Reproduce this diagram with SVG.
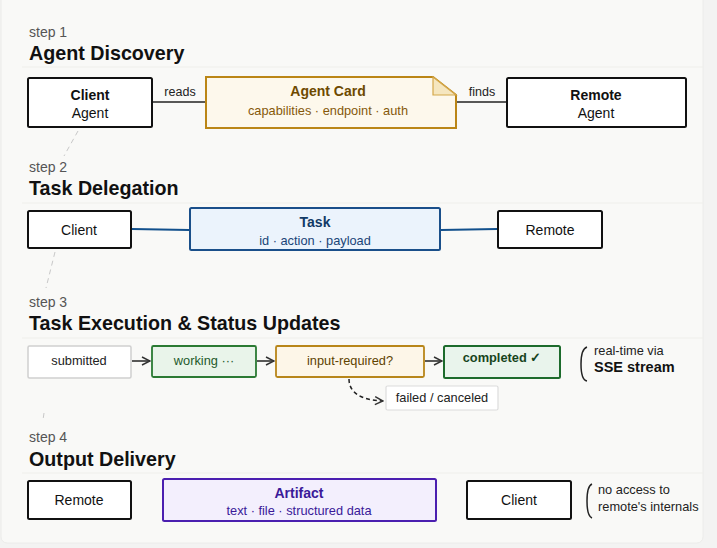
<svg xmlns="http://www.w3.org/2000/svg" width="717" height="548" viewBox="0 0 717 548">
<style>
text{font-family:"Liberation Sans",Arial,sans-serif}
.step{font-size:14px;fill:#555}
.title{font-size:19.7px;font-weight:bold;fill:#111}
.sep{stroke:#efefec;stroke-width:1.2}
.bk{fill:#fff;stroke:#111;stroke-width:2}
.t14{font-size:14px;fill:#111;text-anchor:middle}
.b14{font-size:14px;font-weight:bold;text-anchor:middle}
.t12{font-size:12.8px;text-anchor:middle}
.lbl{font-size:12.5px;fill:#222;text-anchor:middle}
.con{stroke:#222;stroke-width:1.5;fill:none}
.blue{stroke:#12508c;stroke-width:2.2;fill:none}
.guide{stroke:#c8c8c8;stroke-width:1;stroke-dasharray:5 4;fill:none}
.note{font-size:12.8px;fill:#222}
</style>
<defs>
<marker id="arr" viewBox="0 0 10 10" refX="9" refY="5" markerWidth="10" markerHeight="10" markerUnits="userSpaceOnUse" orient="auto">
<path d="M1,1 L9,5 L1,9" fill="none" stroke="#333" stroke-width="1.5"/>
</marker>
</defs>
<rect x="0" y="0" width="717" height="548" fill="#f3f3f2"/>
<rect x="1" y="-10" width="702" height="553" rx="6" fill="#f9f9f7" stroke="#ececea"/>

<g id="guides">
<path class="guide" d="M78,131 L64,156"/>
<path class="guide" d="M55,252 L46,288"/>
<path class="guide" d="M44,413 L43,420"/>
</g>

<g id="step1-header">
<text class="step" x="29" y="37">step 1</text>
<text class="title" x="29" y="60">Agent Discovery</text>
<line class="sep" x1="22" y1="67" x2="703" y2="67"/>
</g>
<g id="step2-header">
<text class="step" x="29" y="172">step 2</text>
<text class="title" x="29" y="195">Task Delegation</text>
<line class="sep" x1="22" y1="203" x2="703" y2="203"/>
</g>
<g id="step3-header">
<text class="step" x="29" y="307">step 3</text>
<text class="title" x="29" y="330">Task Execution &amp; Status Updates</text>
<line class="sep" x1="22" y1="338" x2="703" y2="338"/>
</g>
<g id="step4-header">
<text class="step" x="29" y="442">step 4</text>
<text class="title" x="29" y="466">Output Delivery</text>
<line class="sep" x1="22" y1="473" x2="703" y2="473"/>
</g>

<g id="connectors">
<line class="con" x1="153" y1="102" x2="205" y2="102"/>
<text class="lbl" x="180" y="96">reads</text>
<line class="con" x1="457" y1="102" x2="506" y2="102"/>
<text class="lbl" x="482" y="96">finds</text>
<line class="blue" x1="132" y1="229" x2="189" y2="230"/>
<line class="blue" x1="441" y1="230" x2="497" y2="229"/>
<line class="con" x1="132" y1="361" x2="150" y2="361" marker-end="url(#arr)"/>
<line class="con" x1="257" y1="361" x2="274" y2="361" marker-end="url(#arr)"/>
<line class="con" x1="425" y1="361" x2="442" y2="361" marker-end="url(#arr)"/>
<path class="con" d="M349,379 C349,392 360,400 383,401" stroke-dasharray="4 3" marker-end="url(#arr)"/>
</g>

<g id="client-agent">
<rect class="bk" x="28" y="78" width="124" height="49" rx="1.5"/>
<text class="b14" x="90" y="100" fill="#111">Client</text>
<text class="t14" x="90" y="118">Agent</text>
</g>
<g id="agent-card">
<path d="M206,77 H433 L456,95 V128 H206 Z" fill="#fdf8ec" stroke="#bb8616" stroke-width="2"/>
<path d="M433,77 L433,95 L456,95 Z" fill="#f5e6bf" stroke="#d4a74a" stroke-width="1.2"/>
<text class="b14" x="328" y="96" fill="#6e4a00">Agent Card</text>
<text class="t12" x="328" y="115" fill="#85580a">capabilities · endpoint · auth</text>
</g>
<g id="remote-agent">
<rect class="bk" x="507" y="78" width="179" height="49" rx="1.5"/>
<text class="b14" x="596" y="100" fill="#111">Remote</text>
<text class="t14" x="596" y="118">Agent</text>
</g>

<g id="client-2">
<rect class="bk" x="28" y="211" width="103" height="37" rx="1.5"/>
<text class="t14" x="79" y="235">Client</text>
</g>
<g id="task">
<rect x="190" y="208" width="250" height="42" rx="1.5" fill="#ebf3fc" stroke="#1a4f8a" stroke-width="2"/>
<text class="b14" x="315" y="227" fill="#123a66">Task</text>
<text class="t12" x="315" y="245" fill="#1a4578">id · action · payload</text>
</g>
<g id="remote-2">
<rect class="bk" x="498" y="211" width="104" height="37" rx="1.5"/>
<text class="t14" x="550" y="235">Remote</text>
</g>

<g id="submitted">
<rect x="28" y="346" width="103" height="32" rx="1.5" fill="#fff" stroke="#cfcfcf" stroke-width="1.5"/>
<text class="t12" x="79" y="365" fill="#222">submitted</text>
</g>
<g id="working">
<rect x="152" y="346" width="104" height="31" rx="1.5" fill="#e9f4ea" stroke="#2b7a33" stroke-width="1.8"/>
<text class="t12" x="204" y="365" fill="#245a2a">working ···</text>
</g>
<g id="input-required">
<rect x="276" y="346" width="148" height="31" rx="1.5" fill="#fdf6e8" stroke="#b8861a" stroke-width="1.8"/>
<text class="t12" x="350" y="365" fill="#5e4300">input-required?</text>
</g>
<g id="completed">
<rect x="444" y="346" width="116" height="32" rx="1.5" fill="#e9f4ec" stroke="#1d6b2c" stroke-width="2"/>
<text class="t12" x="502" y="362" fill="#17441c" font-weight="bold">completed ✓</text>
</g>
<g id="failed">
<rect x="386" y="386" width="112" height="24" rx="1.5" fill="#fff" stroke="#dcdcdc" stroke-width="1.2"/>
<text class="t12" x="442" y="402" fill="#222">failed / canceled</text>
</g>
<g id="note-sse">
<path d="M587,347 Q581,349 581,364 Q581,380 587,381" fill="none" stroke="#222" stroke-width="1.5"/>
<text class="note" x="594" y="355">real-time via</text>
<text x="594" y="372" font-size="14.5" font-weight="bold" fill="#111" font-family="Liberation Sans, Arial, sans-serif">SSE stream</text>
</g>

<g id="remote-4">
<rect class="bk" x="28" y="481" width="103" height="38" rx="1.5"/>
<text class="t14" x="79" y="505">Remote</text>
</g>
<g id="artifact">
<rect x="163" y="479" width="273" height="42" rx="1.5" fill="#f3effd" stroke="#4b1fb0" stroke-width="2"/>
<text class="b14" x="299" y="498" fill="#3a1a99">Artifact</text>
<text class="t12" x="299" y="515" fill="#3a1a99">text · file · structured data</text>
</g>
<g id="client-4">
<rect class="bk" x="467" y="481" width="104" height="38" rx="1.5"/>
<text class="t14" x="519" y="505">Client</text>
</g>
<g id="note-access">
<path d="M592,484 Q587,486 587,501 Q587,516 592,518" fill="none" stroke="#222" stroke-width="1.5"/>
<text class="note" x="598" y="494">no access to</text>
<text class="note" x="598" y="511">remote's internals</text>
</g>
</svg>
